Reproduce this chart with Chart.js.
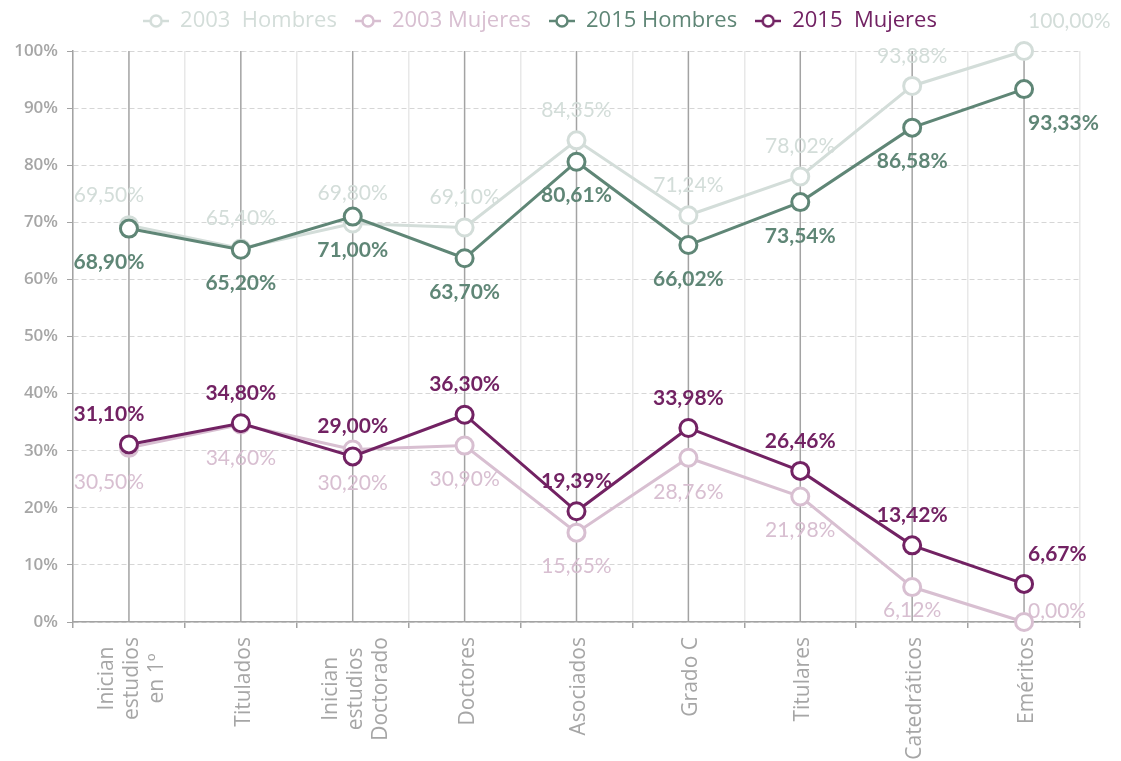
<!DOCTYPE html>
<html>
<head>
<meta charset="utf-8">
<script src="https://cdn.jsdelivr.net/npm/chart.js@4/dist/chart.umd.min.js"></script>
<style>
  html, body { margin: 0; padding: 0; background: #fff; }
  #wrap { width: 1121px; height: 761px; }
</style>
</head>
<body>
<div id="wrap"><canvas id="chart"></canvas></div>
<script>
var categories = [
    ['Inician', 'estudios', 'en 1º'],
    'Titulados',
    ['Inician', 'estudios', 'Doctorado'],
    'Doctores',
    'Asociados',
    'Grado C',
    'Titulares',
    'Catedráticos',
    'Eméritos'
];
var seriesNames = ['2003  Hombres', '2003 Mujeres', '2015 Hombres', '2015  Mujeres'];
var hombres2003 = [69.5, 65.4, 69.8, 69.1, 84.35, 71.24, 78.02, 93.88, 100];
var mujeres2003 = [30.5, 34.6, 30.2, 30.9, 15.65, 28.76, 21.98, 6.12, 0];
var hombres2015 = [68.9, 65.2, 71.0, 63.7, 80.61, 66.02, 73.54, 86.58, 93.33];
var mujeres2015 = [31.1, 34.8, 29.0, 36.3, 19.39, 33.98, 26.46, 13.42, 6.67];
var yTicks = [0, 10, 20, 30, 40, 50, 60, 70, 80, 90, 100];

var colors = ['#d3ddd9', '#d8bfd1', '#5f8676', '#722263'];
var gray = '#a6a6a6';

// label placement: side of the point, plus a few hand nudges like the original
var labelStyle = [
    { side: 'above', weight: 400 },
    { side: 'below', weight: 400 },
    { side: 'below', weight: 700 },
    { side: 'above', weight: 700 }
];
var nudges = {
    '1-7': { dy: -11 },
    '1-8': { dy: 19, side: 'above' }
};

function fmt(v) {
    return v.toFixed(2).replace('.', ',') + '%';
}

function legendMarker(color) {
    var c = document.createElement('canvas');
    c.width = 26; c.height = 14;
    var g = c.getContext('2d');
    g.strokeStyle = color;
    g.lineWidth = 2.5;
    g.beginPath(); g.moveTo(0, 7); g.lineTo(26, 7); g.stroke();
    g.fillStyle = '#fff';
    g.beginPath(); g.arc(13, 7, 5.5, 0, Math.PI * 2); g.fill(); g.stroke();
    return c;
}

// legend box is 51px tall so the plot starts where the original does;
// items drawn a bit higher to keep wider spacing between them
var legendHeight = {
    id: 'legendHeight',
    beforeUpdate: function (chart) {
        var lg = chart.legend;
        if (lg && !lg._tall) {
            var fit = lg.fit, draw = lg.draw;
            lg.fit = function () {
                fit.call(this);
                this.height = 51;
            };
            lg.draw = function () {
                this.ctx.save();
                this.ctx.translate(0, -8);
                draw.call(this);
                this.ctx.restore();
            };
            lg._tall = true;
        }
    }
};

var centerLines = {
    id: 'centerLines',
    beforeDatasetsDraw: function (chart) {
        var ctx = chart.ctx, xs = chart.scales.x, area = chart.chartArea;
        ctx.save();
        ctx.strokeStyle = '#a3a3a3';
        ctx.lineWidth = 1.5;
        categories.forEach(function (c, i) {
            var x = xs.getPixelForTick(i);
            ctx.beginPath();
            ctx.moveTo(x, area.top);
            ctx.lineTo(x, area.bottom);
            ctx.stroke();
        });
        ctx.restore();
    }
};

var pointLabels = {
    id: 'pointLabels',
    afterDatasetsDraw: function (chart) {
        var ctx = chart.ctx;
        ctx.save();
        ctx.textBaseline = 'middle';
        chart.data.datasets.forEach(function (ds, di) {
            var meta = chart.getDatasetMeta(di);
            var st = labelStyle[di];
            ctx.font = st.weight + ' 21px Lato';
            ctx.fillStyle = colors[di];
            meta.data.forEach(function (pt, i) {
                var n = nudges[di + '-' + i] || {};
                var side = n.side || st.side;
                var dy = side === 'above' ? -30 : 34;
                var dx = 0;
                ctx.textAlign = 'center';
                if (i === 0) dx = -20;
                if (i === categories.length - 1) {
                    ctx.textAlign = 'left';
                    dx = 4;
                }
                dy += n.dy || 0;
                ctx.fillText(fmt(ds.data[i]), pt.x + dx, pt.y + dy);
            });
        });
        ctx.restore();
    }
};

var xLabels = {
    id: 'xLabels',
    afterDraw: function (chart) {
        var ctx = chart.ctx, xs = chart.scales.x;
        ctx.save();
        ctx.font = '21px "Open Sans"';
        ctx.fillStyle = gray;
        ctx.textAlign = 'center';
        ctx.textBaseline = 'middle';
        categories.forEach(function (lab, i) {
            var lines = Array.isArray(lab) ? lab : [lab];
            var maxW = Math.max.apply(null, lines.map(function (l) { return ctx.measureText(l).width; }));
            var cx = xs.getPixelForTick(i) + 3;
            var cy = xs.top + 15 + maxW / 2;
            ctx.save();
            ctx.translate(cx, cy);
            ctx.rotate(-Math.PI / 2);
            lines.forEach(function (l, j) {
                ctx.fillText(l, 0, (j - (lines.length - 1) / 2) * 25);
            });
            ctx.restore();
        });
        ctx.restore();
    }
};

var allSeries = [hombres2003, mujeres2003, hombres2015, mujeres2015];

var ctx = document.getElementById('chart').getContext('2d');
var myChart = new Chart(ctx, {
    type: 'line',
    data: {
        labels: categories,
        datasets: allSeries.map(function (values, i) {
            return {
                label: seriesNames[i],
                data: values,
                borderColor: colors[i],
                backgroundColor: '#fff',
                borderWidth: 3,
                pointRadius: 8.5,
                pointBorderWidth: 3,
                pointBackgroundColor: '#fff',
                pointBorderColor: colors[i],
                tension: 0,
                clip: false,
                order: i < 2 ? 1 : 0
            };
        })
    },
    options: {
        responsive: true,
        maintainAspectRatio: false,
        animation: false,
        layout: { padding: { top: 0, right: 41, bottom: 0, left: 0 } },
        plugins: {
            tooltip: { enabled: false },
            legend: {
                position: 'top',
                labels: {
                    usePointStyle: true,
                    pointStyleWidth: 26,
                    padding: 18,
                    font: { family: 'Open Sans', size: 22 },
                    generateLabels: function (chart) {
                        return chart.data.datasets.map(function (ds, i) {
                            return {
                                text: ds.label,
                                fontColor: colors[i],
                                pointStyle: legendMarker(colors[i]),
                                strokeStyle: colors[i],
                                fillStyle: '#fff',
                                lineWidth: 0,
                                hidden: false,
                                datasetIndex: i
                            };
                        });
                    }
                }
            }
        },
        scales: {
            x: {
                offset: true,
                grid: {
                    offset: true,
                    color: '#e8e8e8',
                    lineWidth: 1.5,
                    tickColor: '#a3a3a3',
                    tickLength: 6
                },
                border: { color: '#a3a3a3', width: 1.5 },
                ticks: { color: 'transparent', maxRotation: 90, minRotation: 90 },
                afterFit: function (scale) { scale.height = 139; }
            },
            y: {
                min: 0,
                max: 100,
                afterBuildTicks: function (scale) {
                    scale.ticks = yTicks.map(function (v) { return { value: v }; });
                },
                grid: {
                    color: '#d6d6d6',
                    tickColor: '#a3a3a3',
                    tickLength: 6
                },
                border: { color: '#a3a3a3', width: 1.5, dash: [5, 3] },
                ticks: {
                    color: gray,
                    padding: 9,
                    font: { family: 'Open Sans', size: 17, weight: 600 },
                    callback: function (v) { return v + '%'; }
                },
                afterFit: function (scale) { scale.width = 73; }
            }
        }
    },
    plugins: [legendHeight, centerLines, pointLabels, xLabels]
});
</script>
</body>
</html>
